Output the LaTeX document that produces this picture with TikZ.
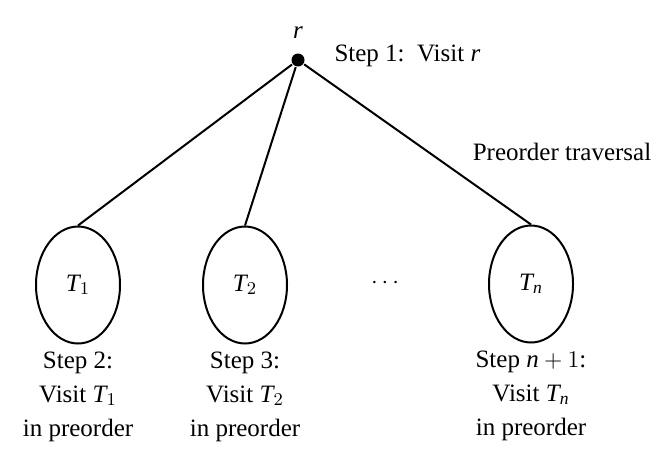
\documentclass[tikz,border=0pt]{standalone}
\usepackage{fontspec}
\setmainfont{Liberation Serif}
\usepackage{tikz}
\usetikzlibrary{shapes,positioning}

\begin{document}
\begin{tikzpicture}[x=0.5pt,y=-0.5pt,line width=1pt,node distance=2pt,
    font=\fontsize{12.5}{17}\selectfont]
    \tikzstyle{subtree}=[ellipse, draw, minimum width=42pt, minimum height=58.5pt, inner sep=0pt]
    \tikzstyle{root}=[circle, fill, inner sep=0pt, minimum size=6.5pt]
    \tikzstyle{stepnote}=[align=center, inner sep=0pt]

    \useasboundingbox (0,0) rectangle (668,451);

    % root and its label
    \node[root]        (r)  at (298,60) {};
    \node[inner sep=0pt] (rname) at (298,33) {$\mathit{r}$};
    \node[stepnote, right=14pt of r, yshift=2pt] (step1) {Step 1:\, Visit $\mathit{r}$};

    % subtrees
    \node[subtree]     (t1) at (78,285)  {$\mathit{T}_1$};
    \node[subtree]     (t2) at (245,285) {$\mathit{T}_2$};
    \node[subtree]     (tn) at (531,284) {$\mathit{T}_{\mathit{n}}$};
    \node              (dots) at (385,283) {$\cdots$};

    \draw (r) -- (t1.north);
    \draw (r) -- (t2.north);
    \draw (r) -- (tn.north);

    \node (title) at (562,152) {Preorder traversal};

    % what each subtree step does
    \node[stepnote, below=3pt of t1] (step2) {Step 2:\\ Visit $\mathit{T}_1$\\ in preorder};
    \node[stepnote, below=3pt of t2] (step3) {Step 3:\\ Visit $\mathit{T}_2$\\ in preorder};
    \node[stepnote, below=3pt of tn] (stepn) {Step $\mathit{n}+1$:\\ Visit $\mathit{T}_{\mathit{n}}$\\ in preorder};
\end{tikzpicture}
\end{document}
